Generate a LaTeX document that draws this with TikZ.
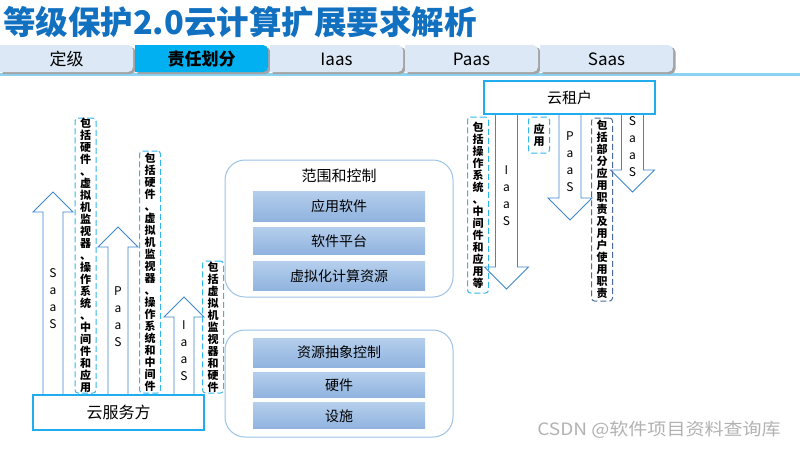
\documentclass[tikz,border=0pt]{standalone}
\usepackage{fontspec}
\setmainfont{Noto Sans CJK SC}
\usetikzlibrary{positioning}

\definecolor{titleblue}{HTML}{1170C0}
\definecolor{tabgray}{HTML}{DCE8F5}
\definecolor{tabcyan}{HTML}{00B0F0}
\definecolor{tabshadow}{HTML}{A3A3A3}
\definecolor{tabline}{HTML}{8BD3F3}
\definecolor{arrowblue}{HTML}{3F86CC}
\definecolor{dashcyan}{HTML}{33B6EE}
\definecolor{dashslate}{HTML}{4A6C9C}
\definecolor{boxcyan}{HTML}{1FADEF}
\definecolor{roundblue}{HTML}{9DC3E6}
\definecolor{bartop}{HTML}{B4CEEC}
\definecolor{barbot}{HTML}{90B3DF}

% one character per line
\newcommand{\vchars}[1]{\vcharsA#1\vcharsEnd}
\def\vcharsA#1#2\vcharsEnd{#1\ifx\relax#2\relax\else\\\vcharsA#2\vcharsEnd\fi}

\begin{document}
\begin{tikzpicture}[
  x=1pt, y=-1pt,
  every node/.style={inner sep=0pt},
  tablabel/.style={font=\fontsize{17}{17}\selectfont},
  bigarrow/.style={draw=arrowblue, fill=white, line width=0.9pt, line join=miter},
  letters/.style={align=center, font=\fontsize{12}{17}\selectfont},
  duty/.style={draw=dashcyan, dash pattern=on 6pt off 3pt, line width=1pt, rounded corners=3pt, align=center, minimum width=21pt, font=\bfseries\fontsize{11}{12}\selectfont},
  party/.style={draw=boxcyan, line width=2pt, fill=white, minimum width=171pt, font=\fontsize{16}{16}\selectfont},
  scopebox/.style={draw=roundblue, line width=1pt, rounded corners=20pt, minimum width=228pt},
  layerbar/.style={top color=bartop, bottom color=barbot, minimum width=172pt, font=\fontsize{14}{14}\selectfont}
]
\fill[white] (0,0) rectangle (800,450);
\useasboundingbox (0,0) rectangle (800,450);

% Title
\node[anchor=west, text=titleblue, font=\bfseries\fontsize{32.5}{32.5}\selectfont] (title) at (3,22) {等级保护2.0云计算扩展要求解析};

% Tabs
\fill[tabline] (0,72.5) rectangle (800,75.5);
\foreach \i/\lbl in {0/定级,1/责任划分,2/Iaas,3/Paas,4/Saas} {
  \fill[tabshadow] (\i*135+2.5,74) -- (\i*135+2.5,47) [rounded corners=5pt] -- (\i*135+135.5,47) -- (\i*135+135.5,74) [sharp corners] -- cycle;
  \ifnum\i=1
    \fill[tabcyan] (\i*135,72) -- (\i*135,45) [rounded corners=5pt] -- (\i*135+133,45) -- (\i*135+133,72) [sharp corners] -- cycle;
    \node[tablabel, font=\bfseries\fontsize{17}{17}\selectfont] (tab\i) at (\i*135+66.5,59) {\lbl};
  \else
    \fill[tabgray] (\i*135,72) -- (\i*135,45) [rounded corners=5pt] -- (\i*135+133,45) -- (\i*135+133,72) [sharp corners] -- cycle;
    \node[tablabel] (tab\i) at (\i*135+66.5,59) {\lbl};
  \fi
}

% Provider side: upward arrows
\foreach \cx/\base in {53/212, 118/247, 184/317}
  \draw[bigarrow] (\cx-10,395) -- (\cx-10,\base) -- (\cx-20,\base) -- (\cx,\base-20) -- (\cx+20,\base) -- (\cx+10,\base) -- (\cx+10,395) -- cycle;
\node[letters] (saasup) at (53,299) {\vchars{SaaS}};
\node[letters] (paasup) at (118,317) {\vchars{PaaS}};
\node[letters] (iaasup) at (184,351) {\vchars{IaaS}};

\node[duty, minimum height=275pt] (dutysaas) at (85.5,255.5) {\vchars{包括硬件、虚拟机监视器、操作系统、中间件和应用}};
\node[duty, minimum height=242pt] (dutypaas) at (150,272) {\vchars{包括硬件、虚拟机监视器、操作系统和中间件}};
\node[duty, minimum height=132pt] (dutyiaas) at (213,327) {\vchars{包括虚拟机监视器和硬件}};

\node[party, minimum height=35pt] (provider) at (118.5,412.5) {云服务方};

% Scope and control
\node[scopebox, minimum height=137pt] (upper) at (339,228.5) {};
\node[font=\fontsize{15}{15}\selectfont] (scopetitle) at (339,176) {范围和控制};
\node[layerbar, minimum height=30pt] (app) at (339,206) {应用软件};
\node[layerbar, minimum height=27pt, below=6pt of app] (platform) {软件平台};
\node[layerbar, minimum height=29pt, below=7pt of platform] (virt) {虚拟化计算资源};

\node[scopebox, minimum height=107pt] (lower) at (339,383.5) {};
\node[layerbar, minimum height=29pt] (abstract) at (339,352.5) {资源抽象控制};
\node[layerbar, minimum height=25pt, below=5pt of abstract] (hardware) {硬件};
\node[layerbar, minimum height=26pt, below=5pt of hardware] (facility) {设施};

% Tenant side: downward arrows
\foreach \cx/\base in {506.5/267, 570/198, 632.5/170}
  \draw[bigarrow] (\cx-11,114) -- (\cx-11,\base) -- (\cx-22,\base) -- (\cx,\base+22) -- (\cx+22,\base) -- (\cx+11,\base) -- (\cx+11,114) -- cycle;
\node[letters] (iaasdown) at (506.5,196) {\vchars{IaaS}};
\node[letters] (paasdown) at (570,162) {\vchars{PaaS}};
\node[letters] (saasdown) at (632.5,147) {\vchars{SaaS}};

\node[party, minimum height=33pt, font=\fontsize{15}{15}\selectfont] (tenant) at (569.5,97.5) {云租户};

\node[duty, minimum height=176pt] (dutyos) at (478,205) {\vchars{包括操作系统、中间件和应用等}};
\node[duty, minimum height=36pt] (dutyapp) at (539,135) {\vchars{应用}};
\node[duty, draw=dashslate, minimum height=183pt] (dutyuser) at (602,209.5) {\vchars{包括部分应用职责及用户使用职责}};

% Watermark
\node[text=gray!60, font=\fontsize{17}{17}\selectfont, xscale=1.12, transform shape] (mark) at (659,430) {CSDN @软件项目资料查询库};

\end{tikzpicture}
\end{document}
